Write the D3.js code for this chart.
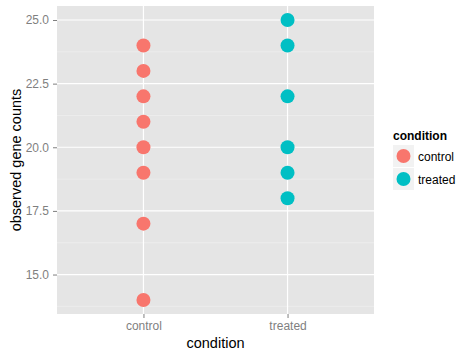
<!DOCTYPE html>
<html>
<head>
<meta charset="utf-8">
<script src="https://cdn.jsdelivr.net/npm/d3@7"></script>
<style>
  body { margin: 0; background: #fff; }
  svg { display: block; font-family: "Liberation Sans", Arial, sans-serif; }
</style>
</head>
<body>
<div id="chart"></div>
<script>
const conditions = ['control', 'treated']
const controlCounts = [24, 23, 22, 21, 20, 19, 17, 14]
const treatedCounts = [25, 24, 22, 20, 19, 18]
const yTicks = [15.0, 17.5, 20.0, 22.5, 25.0]
const yMinorTicks = [13.75, 16.25, 18.75, 21.25, 23.75]
const colors = ['#F8766D', '#00BFC4']

const W = 458, H = 352
const panel = {left: 57, top: 6, right: 374, bottom: 314}

const points = [
  ...controlCounts.map(v => ({cond: 'control', value: v})),
  ...treatedCounts.map(v => ({cond: 'treated', value: v}))
]

const svg = d3.select('#chart').append('svg')
  .attr('width', W).attr('height', H)

// ggplot-like expansion: 5% continuous, 0.6 units discrete
const yMin = d3.min(points, d => d.value), yMax = d3.max(points, d => d.value)
const pad = (yMax - yMin) * 0.05
const y = d3.scaleLinear()
  .domain([yMin - pad, yMax + pad])
  .range([panel.bottom, panel.top])

const xIdx = d3.scaleLinear()
  .domain([0.4, conditions.length + 0.6])
  .range([panel.left, panel.right])
const x = (c) => xIdx(conditions.indexOf(c) + 1)

const color = d3.scaleOrdinal().domain(conditions).range(colors)

// panel background
svg.append('rect')
  .attr('x', panel.left).attr('y', panel.top)
  .attr('width', panel.right - panel.left).attr('height', panel.bottom - panel.top)
  .attr('fill', '#e5e5e5')

// minor grid
svg.append('g').selectAll('line')
  .data(yMinorTicks)
  .enter().append('line')
  .attr('x1', panel.left).attr('x2', panel.right)
  .attr('y1', d => y(d)).attr('y2', d => y(d))
  .attr('stroke', '#f2f2f2').attr('stroke-width', 0.6)

// major grid
svg.append('g').selectAll('line')
  .data(yTicks)
  .enter().append('line')
  .attr('x1', panel.left).attr('x2', panel.right)
  .attr('y1', d => y(d)).attr('y2', d => y(d))
  .attr('stroke', '#fff').attr('stroke-width', 1.2)

svg.append('g').selectAll('line')
  .data(conditions)
  .enter().append('line')
  .attr('x1', d => x(d)).attr('x2', d => x(d))
  .attr('y1', panel.top).attr('y2', panel.bottom)
  .attr('stroke', '#fff').attr('stroke-width', 1.2)

// axes
const yAxis = svg.append('g')
  .attr('transform', `translate(${panel.left},0)`)
  .call(d3.axisLeft(y).tickValues(yTicks).tickFormat(d3.format('.1f')).tickSize(4).tickPadding(4))
yAxis.select('.domain').remove()

const xAxis = svg.append('g')
  .attr('transform', `translate(0,${panel.bottom})`)
  .call(d3.axisBottom(xIdx).tickValues(conditions.map((c, i) => i + 1))
    .tickFormat((d, i) => conditions[i]).tickSize(4).tickPadding(3))
xAxis.select('.domain').remove()

svg.selectAll('.tick line').attr('stroke', '#7f7f7f')
svg.selectAll('.tick text')
  .attr('fill', '#7f7f7f')
  .style('font-size', '12px')

// points
svg.append('g').selectAll('circle')
  .data(points)
  .enter().append('circle')
  .attr('cx', d => x(d.cond))
  .attr('cy', d => y(d.value))
  .attr('r', 7)
  .attr('fill', d => color(d.cond))

// axis titles
svg.append('text')
  .attr('x', (panel.left + panel.right) / 2).attr('y', 348)
  .attr('text-anchor', 'middle')
  .style('font-size', '14.5px')
  .text('condition')

svg.append('text')
  .attr('transform', `translate(21,${(panel.top + panel.bottom) / 2}) rotate(-90)`)
  .attr('text-anchor', 'middle')
  .style('font-size', '14.5px')
  .text('observed gene counts')

// legend
const legend = svg.append('g').attr('transform', 'translate(393,0)')
legend.append('text')
  .attr('x', 0).attr('y', 140)
  .style('font-size', '12px').style('font-weight', 'bold')
  .text('condition')

const keys = legend.selectAll('g.key')
  .data(conditions)
  .enter().append('g')
  .attr('class', 'key')
  .attr('transform', (d, i) => `translate(0,${145 + i * 23})`)

keys.append('rect')
  .attr('width', 21).attr('height', 22)
  .attr('fill', '#f2f2f2')
keys.append('circle')
  .attr('cx', 10.5).attr('cy', 11).attr('r', 7)
  .attr('fill', d => color(d))
keys.append('text')
  .attr('x', 25).attr('y', 15.5)
  .style('font-size', '12px')
  .text(d => d)
</script>
</body>
</html>
